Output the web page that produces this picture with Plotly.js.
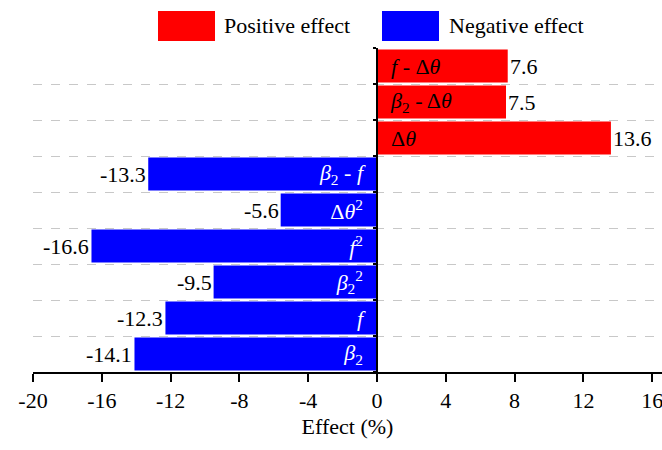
<!DOCTYPE html>
<html><head><meta charset="utf-8">
<script src="https://cdn.plot.ly/plotly-3.0.1.min.js"></script>
<style>
html,body{margin:0;padding:0;background:#fff}
#chart{width:662px;height:450px}
.modebar-container{display:none !important}
</style>
</head><body><div id="chart"></div>
<script>
// Terms listed top to bottom
const terms = [
  "<i>f</i> - Δ<i>θ</i>",
  "<i>β</i><sub>2</sub> - Δ<i>θ</i>",
  "Δ<i>θ</i>",
  "<i>β</i><sub>2</sub> - <i>f</i>",
  "Δ<i>θ</i><sup>2</sup>",
  "<i>f</i><sup>2</sup>",
  "<i>β</i><sub>2</sub><sup>2</sup>",
  "<i>f</i>",
  "<i>β</i><sub>2</sub>"
];
const effects = [7.6, 7.5, 13.6, -13.3, -5.6, -16.6, -9.5, -12.3, -14.1];
const xTicks = [-20, -16, -12, -8, -4, 0, 4, 8, 12, 16];
const seriesNames = ["Positive effect", "Negative effect"];
const seriesColors = ["#FF0000", "#0000FF"];

const FONT = "Liberation Serif";
const FS = 22;
const idx = effects.map((_, i) => i);
const posI = idx.filter(i => effects[i] >= 0);
const negI = idx.filter(i => effects[i] < 0);

function barTrace(ids, k, txtColor) {
  return {
    type: "bar", orientation: "h",
    x: ids.map(i => effects[i]), y: ids.map(i => i),
    text: ids.map(i => "&nbsp;&nbsp;" + terms[i] + "&nbsp;&nbsp;"),
    textposition: "inside", insidetextanchor: "start", constraintext: "none",
    textangle: 0,
    textfont: {family: FONT, size: FS, color: txtColor},
    marker: {color: seriesColors[k], line: {width: 0}},
    width: 0.92, name: seriesNames[k], showlegend: false, hoverinfo: "skip"
  };
}
const data = [barTrace(posI, 0, "#000"), barTrace(negI, 1, "#fff")];

const annotations = idx.map(i => ({
  x: effects[i], y: i, xref: "x", yref: "y",
  text: String(effects[i]), showarrow: false,
  xanchor: effects[i] >= 0 ? "left" : "right", yanchor: "middle",
  font: {family: FONT, size: FS, color: "#000"}
}));

// custom legend (large colour boxes like the reference)
const shapes = [];
const legX = [158, 382];
const legTextX = [222, 447];
seriesNames.forEach((n, k) => {
  shapes.push({type: "rect", xref: "paper", yref: "paper",
    x0: (legX[k] - 33) / 629, x1: (legX[k] + 57 - 33) / 629,
    y0: (450 - 78 - 41) / 324, y1: (450 - 78 - 11) / 324,
    fillcolor: seriesColors[k], line: {width: 0}, layer: "above"});
  annotations.push({xref: "paper", yref: "paper",
    x: (legTextX[k] - 33) / 629, y: (450 - 78 - 26) / 324,
    xanchor: "left", yanchor: "middle", showarrow: false, text: n,
    font: {family: FONT, size: FS, color: "#000"}});
});

const xmin = -20, xmax = 16.57;
const layout = {
  width: 662, height: 450,
  margin: {l: 33, r: 0, t: 48, b: 78},
  paper_bgcolor: "#fff", plot_bgcolor: "#fff",
  barmode: "overlay", showlegend: false,
  xaxis: {
    range: [xmin, xmax], tickvals: xTicks, ticktext: xTicks.map(String),
    ticklabeloverflow: "allow",
    showgrid: false, zeroline: false, showline: true, linecolor: "#000", linewidth: 2,
    ticks: "outside", ticklen: 8, tickwidth: 1.5, tickcolor: "#000",
    tickfont: {family: FONT, size: FS, color: "#000"},
    title: {text: "Effect (%)", font: {family: FONT, size: FS, color: "#000"}, standoff: 6}
  },
  yaxis: {
    range: [8.5, -0.5], anchor: "free", position: (0 - xmin) / (xmax - xmin),
    tickvals: [-0.5, 0.5, 1.5, 2.5, 3.5, 4.5, 5.5, 6.5, 7.5, 8.5], showticklabels: false,
    showgrid: true, gridcolor: "#c8c8c8", griddash: "dash", gridwidth: 1,
    zeroline: false, showline: true, linecolor: "#000", linewidth: 2,
    ticks: "outside", ticklen: 3, tickwidth: 1.5, tickcolor: "#000"
  },
  shapes: shapes,
  annotations: annotations
};
Plotly.newPlot("chart", data, layout);
</script></body></html>
